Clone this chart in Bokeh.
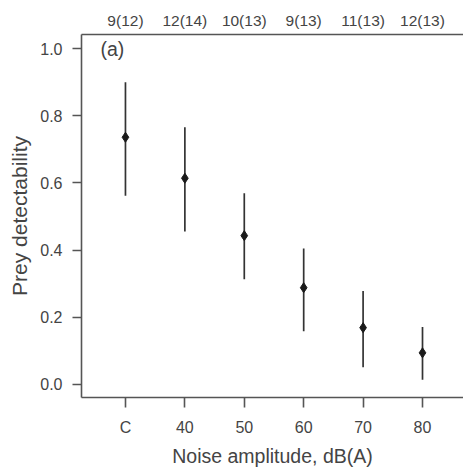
from bokeh.plotting import figure
from bokeh.models import LinearAxis, FixedTicker, Range1d, Label, ColumnDataSource
from bokeh.embed import file_html
from bokeh.resources import INLINE

categories = ["C", "40", "50", "60", "70", "80"]
sample_labels = ["9(12)", "12(14)", "10(13)", "9(13)", "11(13)", "12(13)"]
detectability = [0.736, 0.614, 0.443, 0.288, 0.169, 0.094]
ci_lower = [0.562, 0.455, 0.313, 0.158, 0.051, 0.014]
ci_upper = [0.900, 0.766, 0.569, 0.405, 0.278, 0.171]
y_ticks = [0.0, 0.2, 0.4, 0.6, 0.8, 1.0]
y_tick_labels = ["0.0", "0.2", "0.4", "0.6", "0.8", "1.0"]

xpos = list(range(1, len(categories) + 1))
src = ColumnDataSource(dict(x=xpos, y=detectability, lo=ci_lower, hi=ci_upper))

FONT = "Liberation Sans"
TXT = "#444444"
AX = "#555555"

p = figure(width=463, height=470, output_backend="svg", toolbar_location=None,
           x_range=Range1d(0.26, 6.69), y_range=Range1d(-0.039, 1.042),
           x_axis_location=None, y_axis_location=None,
           min_border_left=81, min_border_right=0, min_border_top=34, min_border_bottom=73)
p.grid.visible = False
p.outline_line_color = None
p.background_fill_color = "white"
p.border_fill_color = "white"

xt = FixedTicker(ticks=xpos)

bottom = LinearAxis(ticker=xt, major_label_overrides=dict(zip(xpos, categories)),
                    axis_label="Noise amplitude, dB(A)")
left = LinearAxis(ticker=FixedTicker(ticks=y_ticks),
                  major_label_overrides=dict(zip(y_ticks, y_tick_labels)),
                  axis_label="Prey detectability")
top = LinearAxis(ticker=xt, major_label_overrides=dict(zip(xpos, sample_labels)))

for ax in (bottom, left, top):
    ax.axis_line_color = AX
    ax.axis_line_width = 1.6
    ax.major_tick_line_color = AX
    ax.major_tick_line_width = 1.6
    ax.major_tick_in = 0
    ax.minor_tick_line_color = None
    ax.major_label_text_font = FONT
    ax.major_label_text_color = TXT
    ax.major_label_text_font_size = "16px"
    ax.axis_label_text_font = FONT
    ax.axis_label_text_color = TXT
    ax.axis_label_text_font_style = "normal"

bottom.axis_label_text_font_size = "19.5px"
left.axis_label_text_font_size = "21px"
bottom.major_tick_out = 10
bottom.major_label_standoff = 11
bottom.axis_label_standoff = 6
left.major_tick_out = 9
left.major_label_standoff = 10
left.major_label_orientation = "horizontal"
left.axis_label_standoff = 6
top.major_tick_out = 0
top.major_tick_line_color = None
top.major_label_standoff = 6
top.major_label_text_font_size = "15.5px"

p.add_layout(bottom, "below")
p.add_layout(left, "left")
p.add_layout(top, "above")

p.segment(x0="x", y0="lo", x1="x", y1="hi", source=src, line_color="#333333", line_width=1.7)
p.scatter(x="x", y="y", source=src, marker="diamond", size=10,
          fill_color="#1a1a1a", line_color="#1a1a1a")

p.add_layout(Label(x=0.58, y=1.0, text="(a)", text_font=FONT, text_font_size="19.5px",
                   text_color=TXT, text_baseline="middle", text_align="left"))

open("out.html", "w").write(file_html(p, INLINE))
